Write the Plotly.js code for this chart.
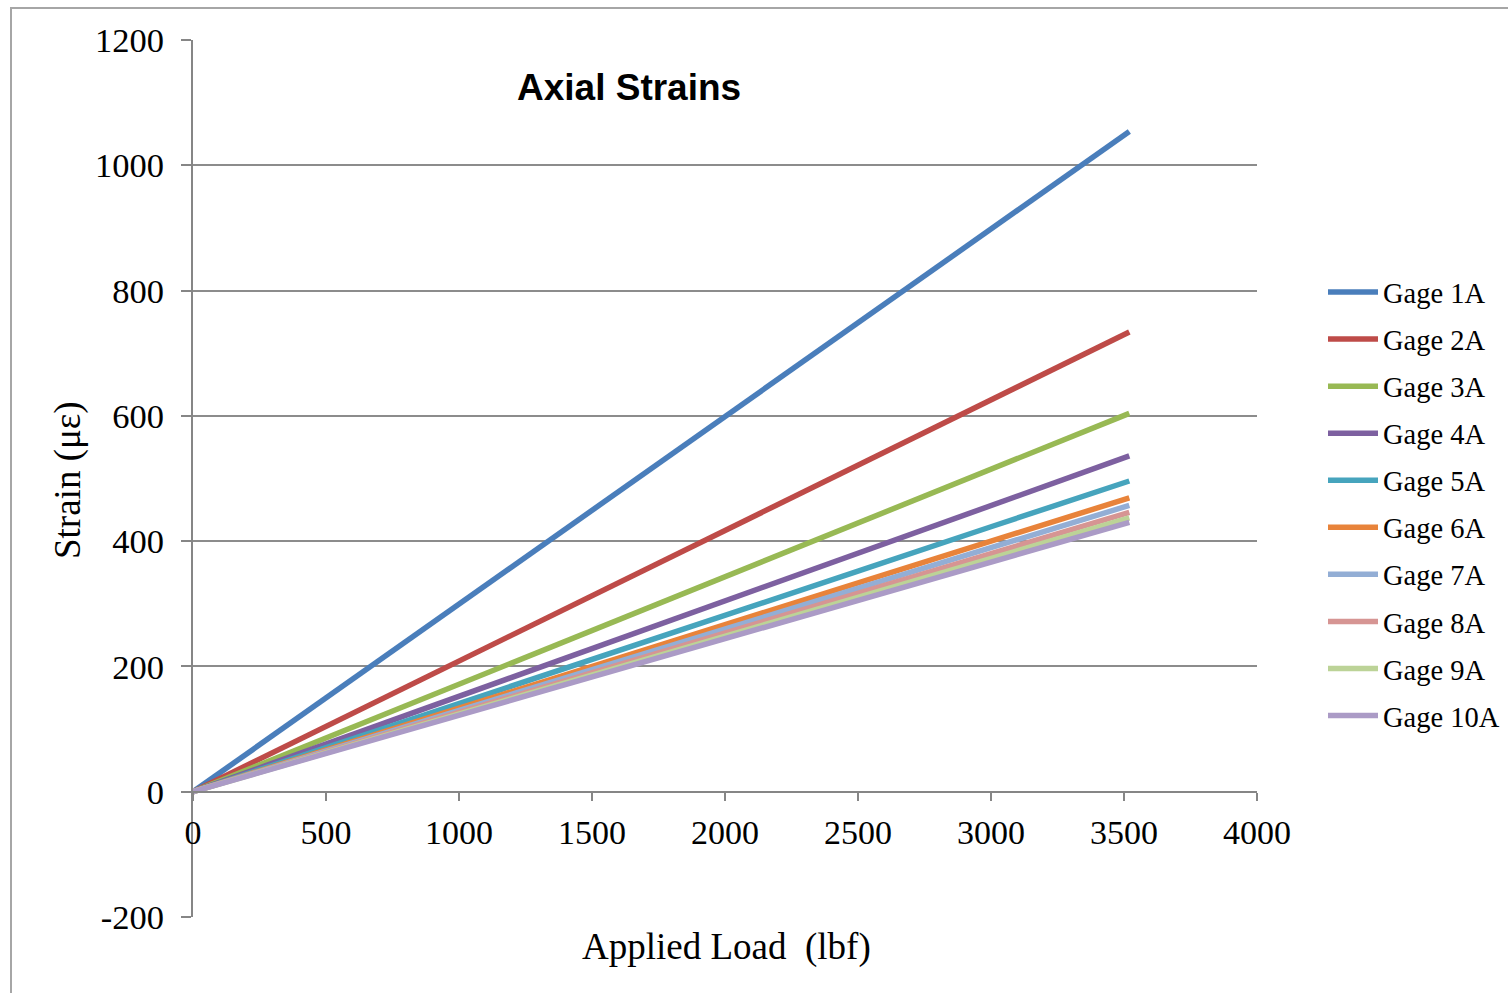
<!DOCTYPE html>
<html>
<head>
<meta charset="utf-8">
<script src="https://cdn.plot.ly/plotly-3.0.1.min.js"></script>
<style>
  html, body { margin: 0; padding: 0; background: #fff; overflow: hidden; }
  #chart { position: absolute; left: 0; top: 0; width: 1508px; height: 993px; }
  #frame { position: absolute; left: 10px; top: 7px; width: 1600px; height: 1100px;
           border: 2px solid #a6a6a6; pointer-events: none; box-sizing: border-box; }
</style>
</head>
<body>
<div id="chart"></div>
<div id="frame"></div>
<script>
// Applied load (lbf)
const load = [0, 500, 1000, 1500, 2000, 2500, 3000, 3520];

// Strain (microstrain) per gage
const gage1A  = [0, 150, 300, 450, 600, 749, 898, 1054];
const gage2A  = [0, 104, 209, 313, 417, 521, 625, 734];
const gage3A  = [0, 86, 172, 258, 343, 429, 515, 604];
const gage4A  = [0, 76, 152, 228, 305, 381, 457, 536];
const gage5A  = [0, 70, 141, 211, 282, 352, 423, 496];
const gage6A  = [0, 67, 133, 200, 266, 333, 400, 469];
const gage7A  = [0, 65, 130, 195, 259, 324, 389, 457];
const gage8A  = [0, 63, 127, 190, 253, 317, 380, 446];
const gage9A  = [0, 62, 124, 186, 248, 310, 372, 437];
const gage10A = [0, 61, 122, 183, 244, 305, 366, 430];

const seriesNames = ['Gage 1A','Gage 2A','Gage 3A','Gage 4A','Gage 5A','Gage 6A','Gage 7A','Gage 8A','Gage 9A','Gage 10A'];
const seriesValues = [gage1A, gage2A, gage3A, gage4A, gage5A, gage6A, gage7A, gage8A, gage9A, gage10A];
const seriesColors = ['#4a7ebb','#be4b48','#98b954','#7d60a0','#46a4bd','#e8833a','#93aed5','#d69593','#bcd397','#ab9bc6'];

const yTicks = [-200, 0, 200, 400, 600, 800, 1000, 1200];
const xTicks = [0, 500, 1000, 1500, 2000, 2500, 3000, 3500, 4000];

const traces = seriesNames.map((n, i) => ({
  type: 'scatter', mode: 'lines', name: n,
  x: load, y: seriesValues[i],
  legendgroup: 'g' + i,
  line: { color: seriesColors[i], width: 5.5 }
}));

const serif = 'Liberation Serif, Times New Roman, serif';

const layout = {
  width: 1508, height: 993,
  margin: { l: 193, r: 251, t: 40, b: 76, autoexpand: false },
  paper_bgcolor: '#ffffff', plot_bgcolor: '#ffffff',
  showlegend: true,
  legend: {
    xref: 'container', yref: 'container',
    x: 1323 / 1508, xanchor: 'left', y: 1 - 267 / 993, yanchor: 'top',
    traceorder: 'grouped', tracegroupgap: 7,
    font: { family: serif, size: 28.5, color: '#000' },
    itemwidth: 50, bgcolor: 'rgba(0,0,0,0)'
  },
  xaxis: {
    range: [0, 4000], tickvals: xTicks, ticktext: xTicks.map(String),
    anchor: 'free', position: 200 / 1400,
    showgrid: false, zeroline: false,
    showline: true, linecolor: '#868686', linewidth: 2,
    ticks: 'outside', ticklen: 8, tickcolor: '#868686', tickwidth: 2,
    tickfont: { family: serif, size: 34, color: '#000' },
    ticklabelstandoff: 2,
    fixedrange: true
  },
  yaxis: {
    range: [-200, 1200], tickvals: yTicks, ticktext: yTicks.map(String),
    showgrid: true, gridcolor: '#8c8c8c', gridwidth: 2,
    zeroline: false,
    showline: true, linecolor: '#868686', linewidth: 2,
    ticks: 'outside', ticklen: 10, tickcolor: '#868686', tickwidth: 2,
    tickfont: { family: serif, size: 34.5, color: '#000' },
    ticklabelstandoff: 10,
    fixedrange: true
  },
  annotations: [
    { text: '<b>Axial Strains</b>', xref: 'paper', yref: 'paper',
      x: (629 - 193) / 1064, y: 1 - (87 - 40) / 877, xanchor: 'center', yanchor: 'middle',
      showarrow: false, font: { family: 'Liberation Sans, Arial, sans-serif', size: 37, color: '#000' } },
    { text: 'Applied Load  (lbf)', xref: 'paper', yref: 'paper',
      x: (726 - 193) / 1064, y: 1 - (947 - 40) / 877, xanchor: 'center', yanchor: 'middle',
      showarrow: false, font: { family: serif, size: 37, color: '#000' } },
    { text: 'Strain (με)', xref: 'paper', yref: 'paper', textangle: -90,
      x: (68 - 193) / 1064, y: 1 - (480 - 40) / 877, xanchor: 'center', yanchor: 'middle',
      showarrow: false, font: { family: serif, size: 37, color: '#000' } }
  ]
};

Plotly.newPlot('chart', traces, layout, { displayModeBar: false, staticPlot: true });
</script>
</body>
</html>
